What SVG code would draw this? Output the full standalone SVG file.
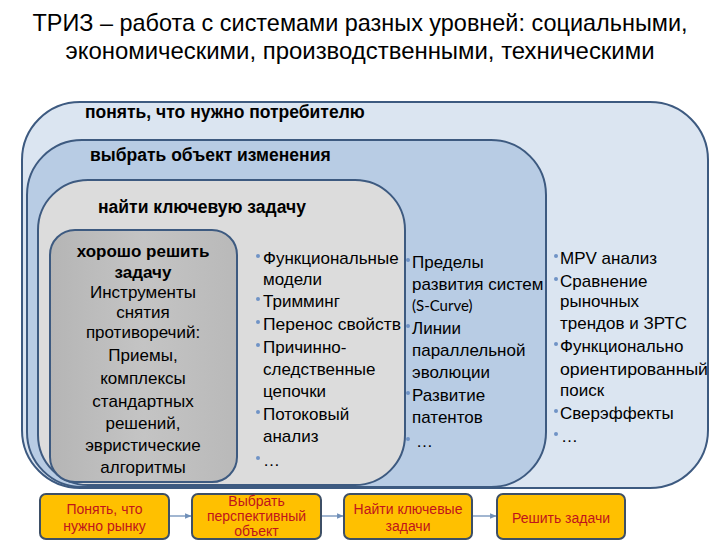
<svg xmlns="http://www.w3.org/2000/svg" width="720" height="540" viewBox="0 0 720 540">
<defs>
<style>
.t{font-family:"Liberation Sans",Arial,sans-serif;fill:#000}
.title{font-size:24px}
.hdr{font-size:17.5px;font-weight:bold}
.b{font-size:17px}
.bb{font-size:17px;font-weight:bold}
.c{text-anchor:middle}
.lvl{stroke:#3d5a80;stroke-width:2}
.dot{fill:#6f93c6}
.step{fill:#ffc000;stroke:#3d4f66;stroke-width:2}
.st{font-family:"Liberation Sans",Arial,sans-serif;font-size:14px;fill:#c0141c;text-anchor:middle}
.con{stroke:#6f8fb8;stroke-width:1.3;fill:none}
</style>
<linearGradient id="gInner" x1="0" y1="0" x2="1" y2="0">
<stop offset="0" stop-color="#b5b5b5"/>
<stop offset="0.5" stop-color="#c4c4c4"/>
<stop offset="1" stop-color="#b9b9b9"/>
</linearGradient>
<marker id="ah" viewBox="0 0 6 6" refX="5.5" refY="3" markerWidth="5" markerHeight="5" orient="auto">
<path d="M0,0.5 L6,3 L0,5.5 z" fill="#6f8fb8"/>
</marker>
</defs>
<rect width="720" height="540" fill="#fff"/>

<g id="title">
<text class="t title c" x="360" y="31" textLength="655" lengthAdjust="spacingAndGlyphs">ТРИЗ – работа с системами разных уровней: социальными,</text>
<text class="t title c" x="360" y="59" textLength="589" lengthAdjust="spacingAndGlyphs">экономическими, производственными, техническими</text>
</g>

<g id="level-consumer">
<rect class="lvl" x="22" y="102" width="686" height="386" rx="58" fill="#dbe5f1"/>
<text class="t hdr" x="85" y="118">понять, что нужно потребителю</text>
<circle class="dot" cx="556" cy="256" r="2"/>
<text class="t b" x="560" y="264">MPV анализ</text>
<circle class="dot" cx="556" cy="279" r="2"/>
<text class="t b" x="560" y="287">Сравнение</text>
<text class="t b" x="560" y="307">рыночных</text>
<text class="t b" x="560" y="329">трендов и ЗРТС</text>
<circle class="dot" cx="556" cy="344" r="2"/>
<text class="t b" x="560" y="352">Функционально</text>
<text class="t b" x="560" y="375" textLength="148" lengthAdjust="spacingAndGlyphs">ориентированный</text>
<text class="t b" x="560" y="396">поиск</text>
<circle class="dot" cx="556" cy="411" r="2"/>
<text class="t b" x="560" y="419">Сверэффекты</text>
<circle class="dot" cx="556" cy="434" r="2"/>
<text class="t b" x="561" y="442">…</text>
</g>

<g id="level-object">
<rect class="lvl" x="27" y="140" width="519" height="347" rx="55" fill="#b8cce4"/>
<text class="t hdr" x="90" y="161">выбрать объект изменения</text>
<circle class="dot" cx="408" cy="260" r="2"/>
<text class="t b" x="412" y="268">Пределы</text>
<text class="t b" x="412" y="290">развития систем</text>
<text x="412" y="311" style="font-family:Lato,'Open Sans',sans-serif;font-size:15px;fill:#000">(S-Curve)</text>
<circle class="dot" cx="408" cy="326" r="2"/>
<text class="t b" x="412" y="334">Линии</text>
<text class="t b" x="412" y="356">параллельной</text>
<text class="t b" x="412" y="378">эволюции</text>
<circle class="dot" cx="408" cy="393" r="2"/>
<text class="t b" x="412" y="401">Развитие</text>
<text class="t b" x="412" y="423">патентов</text>
<circle class="dot" cx="408" cy="439" r="2"/>
<text class="t b" x="416" y="447">…</text>
</g>

<g id="level-task">
<rect class="lvl" x="38" y="180" width="367" height="305" rx="50" fill="#dcdcdc"/>
<text class="t hdr" x="98" y="213">найти ключевую задачу</text>
<circle class="dot" cx="258" cy="256" r="2"/>
<text class="t b" x="263" y="264">Функциональные</text>
<text class="t b" x="263" y="285">модели</text>
<circle class="dot" cx="258" cy="299" r="2"/>
<text class="t b" x="263" y="307">Тримминг</text>
<circle class="dot" cx="258" cy="322" r="2"/>
<text class="t b" x="263" y="330" textLength="138" lengthAdjust="spacingAndGlyphs">Перенос свойств</text>
<circle class="dot" cx="258" cy="345" r="2"/>
<text class="t b" x="263" y="353">Причинно-</text>
<text class="t b" x="263" y="375">следственные</text>
<text class="t b" x="263" y="397">цепочки</text>
<circle class="dot" cx="258" cy="412" r="2"/>
<text class="t b" x="263" y="420">Потоковый</text>
<text class="t b" x="263" y="442">анализ</text>
<circle class="dot" cx="258" cy="458" r="2"/>
<text class="t b" x="263" y="466">…</text>
</g>

<g id="level-solve">
<rect class="lvl" x="50" y="230" width="187" height="252" rx="25" fill="url(#gInner)"/>
<text class="t bb c" x="143" y="257">хорошо решить</text>
<text class="t bb c" x="143" y="278">задачу</text>
<text class="t b c" x="143" y="298">Инструменты</text>
<text class="t b c" x="143" y="318">снятия</text>
<text class="t b c" x="143" y="338">противоречий:</text>
<text class="t b c" x="143" y="361">Приемы,</text>
<text class="t b c" x="143" y="384">комплексы</text>
<text class="t b c" x="143" y="407">стандартных</text>
<text class="t b c" x="143" y="429">решений,</text>
<text class="t b c" x="143" y="451">эвристические</text>
<text class="t b c" x="143" y="473">алгоритмы</text>
</g>

<g id="connectors">
<line class="con" x1="170" y1="516" x2="191" y2="516" marker-end="url(#ah)"/>
<line class="con" x1="322" y1="516" x2="343" y2="516" marker-end="url(#ah)"/>
<line class="con" x1="473" y1="516" x2="496" y2="516" marker-end="url(#ah)"/>
</g>

<g id="step1">
<rect class="step" x="40" y="494" width="129" height="45" rx="6"/>
<text class="st" x="104.5" y="514">Понять, что</text>
<text class="st" x="104.5" y="531">нужно рынку</text>
</g>
<g id="step2">
<rect class="step" x="192" y="494" width="129" height="45" rx="6"/>
<text class="st" x="256.5" y="506">Выбрать</text>
<text class="st" x="256.5" y="521">перспективный</text>
<text class="st" x="256.5" y="536">объект</text>
</g>
<g id="step3">
<rect class="step" x="344" y="494" width="128" height="45" rx="6"/>
<text class="st" x="408" y="514">Найти ключевые</text>
<text class="st" x="408" y="531">задачи</text>
</g>
<g id="step4">
<rect class="step" x="497" y="494" width="128" height="45" rx="6"/>
<text class="st" x="561" y="523">Решить задачи</text>
</g>
</svg>
